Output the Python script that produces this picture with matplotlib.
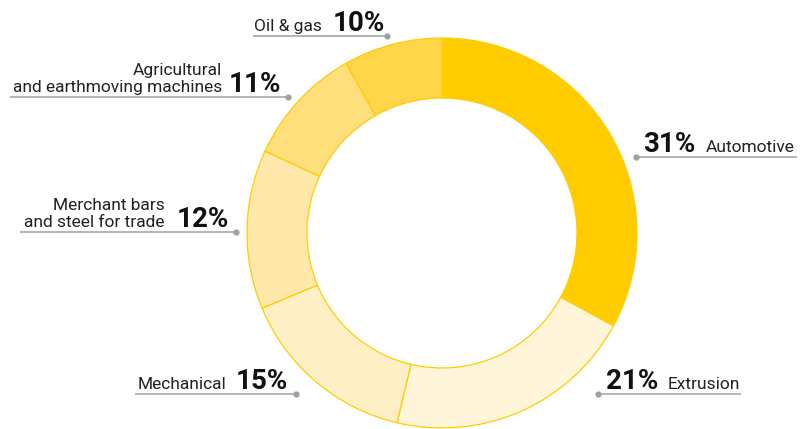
import matplotlib
matplotlib.use("Agg")
import matplotlib.pyplot as plt

plt.rcParams['font.family'] = ['Roboto', 'DejaVu Sans']

# data, clockwise from 12 o'clock
sectors = ["Automotive", "Extrusion", "Mechanical",
           "Merchant bars\nand steel for trade",
           "Agricultural\nand earthmoving machines", "Oil & gas"]
# percentages printed on the labels
shares = [31, 21, 15, 12, 11, 10]
# arc sizes as drawn in the source picture (they don't quite match the labels)
arc_sizes = [32.9, 20.8, 15.0, 13.2, 9.9, 8.2]
colors = ["#FFCC00", "#FFF5D9", "#FFEFC4", "#FFE8A9", "#FFDE7C", "#FFD54A"]

W, H = 802, 429
fig = plt.figure(figsize=(W / 100, H / 100), dpi=100)
ax = fig.add_axes([0, 0, 1, 1])

cx, cy, r_out, r_in = 442, H - 233, 195, 135
ax.pie(arc_sizes, colors=colors, startangle=90, counterclock=False,
       center=(cx, cy), radius=r_out, frame=True,
       wedgeprops=dict(width=r_out - r_in, edgecolor="#FFCC00", linewidth=0.9))
ax.set_xlim(0, W)
ax.set_ylim(0, H)
ax.set_aspect('equal')
ax.axis('off')

def Y(y):
    return H - y

# label layout: (line x0, line x1, dot x, line y, pct x, side, text x, baseline)
layout = {
    "Automotive": (636, 797, 636, 157, 643, 'right', 706, 152),
    "Extrusion": (598, 741, 598, 394, 606, 'right', 668, 389),
    "Mechanical": (135, 296, 296, 394, 288, 'left', 226, 389),
    "Merchant bars\nand steel for trade": (20, 236, 236, 232, 229, 'left', 165, 227),
    "Agricultural\nand earthmoving machines": (10, 288, 288, 97, 281, 'left', 222, 92),
    "Oil & gas": (253, 387, 387, 36, 385, 'left', 322, 31),
}

for name, pct in zip(sectors, shares):
    x0, x1, xd, ly, px, side, tx, base = layout[name]
    ax.plot([x0, x1], [Y(ly), Y(ly)], color="#A8A8A8", lw=1.2, solid_capstyle='butt')
    ax.plot([xd], [Y(ly)], 'o', color="#A0A0A0", ms=4.5, mec='none')
    if side == 'right':
        ax.text(px, Y(base), f"{pct}%", ha='left', va='baseline',
                fontsize=20, fontweight='bold', color="#111111")
        ax.text(tx, Y(base), name, ha='left', va='baseline',
                fontsize=12.5, color="#222222")
    else:
        ax.text(px, Y(base), f"{pct}%", ha='right', va='baseline',
                fontsize=20, fontweight='bold', color="#111111")
        ax.text(tx, Y(base), name, ha='right', va='baseline',
                fontsize=12.5, color="#222222", multialignment='right',
                linespacing=1.2)

fig.savefig("out.png", dpi=100)
